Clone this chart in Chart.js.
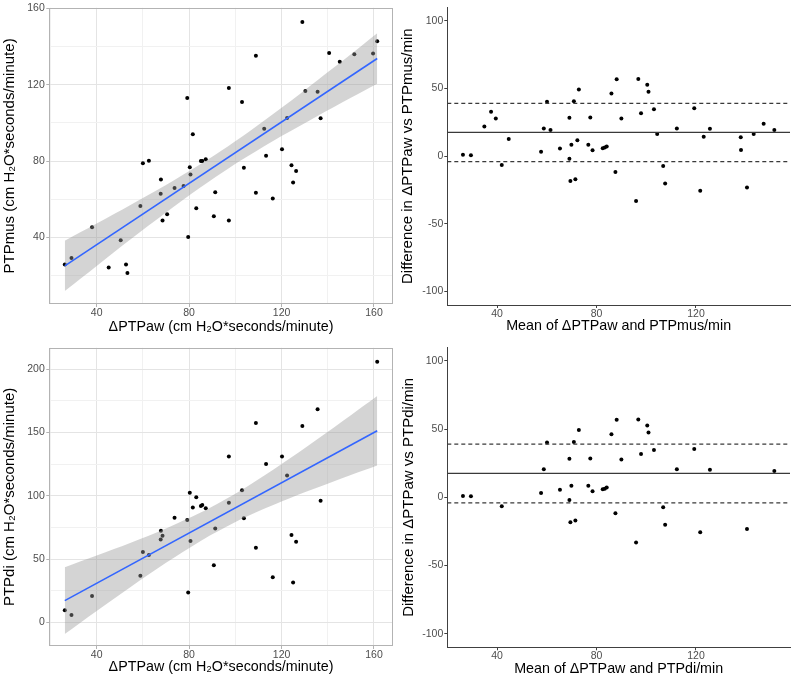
<!DOCTYPE html>
<html><head><meta charset="utf-8">
<script src="https://cdn.jsdelivr.net/npm/chart.js@4.4.0/dist/chart.umd.min.js"></script>
<style>
html,body{margin:0;padding:0;background:#fff;}
#wrap{position:relative;width:794px;height:680px;background:#fff;overflow:hidden;}
.p{position:absolute;width:397px;height:340px;}
canvas{display:block;}
</style></head><body>
<div id="wrap">
<div class="p" style="left:0;top:0"><canvas id="c1" width="397" height="340"></canvas></div>
<div class="p" style="left:397px;top:0"><canvas id="c2" width="397" height="340"></canvas></div>
<div class="p" style="left:0;top:340px"><canvas id="c3" width="397" height="340"></canvas></div>
<div class="p" style="left:397px;top:340px"><canvas id="c4" width="397" height="340"></canvas></div>
</div>
<script>
// ---------- DATA ----------
// Panel A: ΔPTPaw vs PTPmus
const pawA = [26.2,29.1,38.0,45.2,50.4,52.7,53.3,58.9,60.0,62.6,67.8,67.7,68.5,70.5,73.7,77.6,79.2,79.6,80.3,80.6,81.6,83.1,85.1,85.7,87.2,90.7,91.3,97.2,97.2,102.9,103.7,108.9,108.9,112.5,113.3,116.2,120.2,122.4,124.3,125.0,126.3,129.0,130.3,135.6,136.9,140.6,145.2,151.5,159.6,161.4];
const ptpMus = [25.7,29.1,45.3,24.1,38.4,25.7,21.2,56.4,78.8,80.2,70.3,62.8,48.8,52.1,65.9,66.9,113.1,40.2,76.7,72.9,94.0,55.3,80.0,80.0,81.0,51.0,63.6,118.3,48.8,111.0,76.5,135.2,63.4,96.9,82.8,60.3,86.2,102.6,77.8,68.8,74.8,152.9,116.7,116.4,102.4,136.7,132.1,136.0,136.4,142.9];
const fitMusX = [26.2,161.4];
const fitMusY = [25.0,133.8];
const bandMusX  = [26.2,40,55,70,85,93.9,105,120,135,150,161.4];
const bandMusHi = [38.2,47.2,57.2,67.4,78.4,85.4,94.6,107.9,121.9,136.0,147.0];
const bandMusLo = [11.8,25.0,39.2,53.0,66.2,73.6,82.2,93.1,103.3,113.2,120.6];

// Panel B: Bland-Altman ΔPTPaw vs PTPmus
const baMeanMus = [26.3,29.5,34.9,37.6,39.5,41.9,44.7,57.7,58.8,60.1,61.5,65.3,69.1,69.1,69.5,69.9,70.9,71.5,72.3,72.9,76.7,77.5,78.4,82.5,83.3,84.1,86.0,87.6,88.1,90.0,95.9,96.8,97.9,100.4,100.9,103.1,104.4,106.8,107.6,112.3,119.3,121.7,123.1,125.6,138.0,138.1,140.5,143.2,147.2,151.5];
const baDiffMus = [1.0,0.7,22.0,32.9,27.8,-6.6,12.7,3.2,20.5,40.2,19.3,5.6,28.3,-2.0,-18.3,8.5,40.5,-17.1,11.7,49.3,8.5,28.5,4.4,5.9,6.3,7.1,46.3,-11.7,56.8,27.8,-33.2,57.1,31.7,52.7,47.6,34.6,16.3,-7.3,-20.2,20.5,35.4,-25.6,14.4,20.2,13.9,4.6,-23.2,16.3,23.9,19.3];

// Panel C: ΔPTPaw vs PTPdi
const pawC = [26.2,29.1,38.0,58.9,60.0,62.6,67.8,67.7,68.5,73.7,79.2,79.6,80.3,80.6,81.6,83.1,85.1,85.7,87.2,90.7,91.3,97.2,97.2,102.9,103.7,108.9,108.9,113.3,116.2,120.2,122.4,124.3,125.0,126.3,129.0,135.6,136.9,161.4];
const ptpDi = [9.7,6.0,20.9,36.9,55.7,53.3,72.4,65.6,68.5,82.6,81.0,23.8,102.5,64.3,90.7,98.8,92.0,92.8,90.2,45.2,74.2,131.0,94.6,104.3,82.3,157.4,59.1,125.2,35.8,131.0,116.1,69.0,31.6,63.8,155.0,168.3,96.2,205.7];
const fitDiX = [26.2,161.4];
const fitDiY = [17.3,151.3];
const bandDiX  = [26.2,40,55,70,85,92.3,105,120,135,150,161.4];
const bandDiHi = [43.7,52.9,63.2,74.3,86.8,93.7,107.2,125.1,144.1,163.6,178.7];
const bandDiLo = [-9.1,9.1,28.4,47.1,64.4,71.9,83.6,95.5,106.1,116.4,123.9];

// Panel D: Bland-Altman ΔPTPaw vs PTPdi
const baMeanDi = [26.3,29.5,41.9,57.7,58.8,60.1,65.3,69.1,69.1,69.5,69.9,70.9,71.5,72.9,76.7,77.5,78.4,82.5,83.3,84.1,86.0,87.6,88.1,90.0,95.9,96.8,97.9,100.4,100.9,103.1,106.8,107.6,112.3,119.3,121.7,125.6,140.5,151.5];
const baDiffDi = [1.0,0.7,-6.6,3.2,20.5,40.2,5.6,28.3,-2.0,-18.3,8.5,40.5,-17.1,49.3,8.5,28.5,4.4,5.9,6.3,7.1,46.3,-11.7,56.8,27.8,-33.2,57.1,31.7,52.7,47.6,34.6,-7.3,-20.2,20.5,35.4,-25.6,20.2,-23.2,19.3];

// Bland-Altman bias and limits of agreement
const baLines = [17.5, 39.0, -4.1];   // bias, upper LoA, lower LoA

// Tick / grid values
const gridPawX  = [20,40,60,80,100,120,140,160];
const majorPawX = [40,80,120,160];
const gridMusY  = [20,40,60,80,100,120,140,160];
const majorMusY = [40,80,120,160];
const gridDiY   = [0,25,50,75,100,125,150,175,200];
const majorDiY  = [0,50,100,150,200];
const baTicksX  = [40,80,120];
const baTicksY  = [-100,-50,0,50,100];

// ---------- STYLE ----------
Chart.defaults.font.family = "'Liberation Sans', Arial, Helvetica, sans-serif";
Chart.defaults.animation = false;
const TICK_COLOR = '#4d4d4d';
const TICK_FONT = {size: 10.5};
const X_TITLE_FONT = {size: 14.3};
const Y_TITLE_FONT = {size: 15};
const GRID_MAJOR = '#e4e4e4';
const GRID_MINOR = '#f1f1f1';
const FRAME = '#b3b3b3';
const AXIS = '#404040';

const pairs = (xs, ys) => xs.map((x, i) => ({x: x, y: ys[i]}));
const setTicks = vals => s => { s.ticks = vals.map(v => ({value: v})); };
const isIn = (arr, ctx) => ctx && ctx.tick && arr.includes(ctx.tick.value);

const framePlugin = {
  id: 'frame',
  afterDraw(chart, args, opts) {
    if (!opts || !opts.color) return;
    const {ctx, chartArea: a} = chart;
    ctx.save();
    ctx.strokeStyle = opts.color;
    ctx.lineWidth = 1;
    const l = Math.round(a.left) + 0.5, t = Math.round(a.top) + 0.5;
    const r = Math.round(a.right) - 0.5, b = Math.round(a.bottom) - 0.5;
    ctx.strokeRect(l, t, r - l, b - t);
    ctx.restore();
  }
};

function bwScale(opts) {
  return {
    type: 'linear', position: opts.position, min: opts.min, max: opts.max,
    afterBuildTicks: setTicks(opts.grid),
    afterFit: opts.fit,
    ticks: {autoSkip: false, maxRotation: 0, padding: opts.tickPad, color: TICK_COLOR, font: TICK_FONT,
      callback: v => opts.major.includes(v) ? String(v) : ''},
    grid: {lineWidth: 1, drawTicks: true, tickLength: 3,
      color: ctx => isIn(opts.major, ctx) ? GRID_MAJOR : GRID_MINOR,
      tickColor: ctx => isIn(opts.major, ctx) ? FRAME : 'rgba(0,0,0,0)'},
    border: {display: false},
    title: {display: true, text: opts.title, color: '#000', font: opts.titleFont, padding: opts.titlePad}
  };
}

function classicScale(opts) {
  return {
    type: 'linear', position: opts.position, min: opts.min, max: opts.max,
    afterBuildTicks: setTicks(opts.ticksArr),
    afterFit: opts.fit,
    ticks: {autoSkip: false, maxRotation: 0, padding: opts.tickPad, color: TICK_COLOR, font: TICK_FONT,
      callback: v => String(v)},
    grid: {display: true, drawOnChartArea: false, drawTicks: true, tickLength: 3, tickColor: AXIS, lineWidth: 1},
    border: {display: true, color: AXIS, width: 1},
    title: {display: true, text: opts.title, color: '#000', font: opts.titleFont, padding: opts.titlePad}
  };
}

function scatterPanel(id, cfg) {
  const datasets = [
    {type: 'scatter', data: pairs(cfg.px, cfg.py), backgroundColor: '#000', borderWidth: 0, pointRadius: 2, order: 2},
    {type: 'line', data: pairs(cfg.bandX, cfg.bandHi), borderWidth: 0, pointRadius: 0, fill: '+1',
     backgroundColor: 'rgba(153,153,153,0.42)', tension: 0.35, order: 1},
    {type: 'line', data: pairs(cfg.bandX, cfg.bandLo), borderWidth: 0, pointRadius: 0, fill: false,
     backgroundColor: 'rgba(0,0,0,0)', tension: 0.35, order: 1},
    {type: 'line', data: pairs(cfg.fitX, cfg.fitY), borderColor: '#3366ff', borderWidth: 1.6, pointRadius: 0, fill: false, order: 0}
  ];
  new Chart(document.getElementById(id), {
    type: 'scatter',
    data: {datasets: datasets},
    plugins: [framePlugin],
    options: {
      responsive: false, animation: false, events: [],
      layout: {padding: cfg.pad},
      plugins: {legend: {display: false}, tooltip: {enabled: false}, frame: {color: FRAME}},
      scales: {
        x: bwScale({position: 'bottom', min: cfg.xMin, max: cfg.xMax, grid: gridPawX, major: majorPawX,
          fit: s => { s.height = cfg.xH; }, tickPad: 0, title: cfg.xTitle, titleFont: X_TITLE_FONT,
          titlePad: {top: 0, bottom: cfg.xTitlePad}}),
        y: bwScale({position: 'left', min: cfg.yMin, max: cfg.yMax, grid: cfg.yGrid, major: cfg.yMajor,
          fit: s => { s.width = cfg.yW; }, tickPad: 1.5, title: cfg.yTitle, titleFont: Y_TITLE_FONT,
          titlePad: {top: cfg.yTitlePad, bottom: 0}})
      }
    }
  });
}

function baPanel(id, cfg) {
  const xr = [cfg.xMin, cfg.xMax];
  const datasets = [
    {type: 'scatter', data: pairs(cfg.px, cfg.py), backgroundColor: '#000', borderWidth: 0, pointRadius: 2, order: 1},
    {type: 'line', data: pairs(xr, [baLines[0], baLines[0]]), borderColor: '#3a3a3a', borderWidth: 1.2, pointRadius: 0, fill: false, order: 0},
    {type: 'line', data: pairs(xr, [baLines[1], baLines[1]]), borderColor: '#3a3a3a', borderWidth: 1.2, borderDash: [4, 3], pointRadius: 0, fill: false, order: 0},
    {type: 'line', data: pairs(xr, [baLines[2], baLines[2]]), borderColor: '#3a3a3a', borderWidth: 1.2, borderDash: [4, 3], pointRadius: 0, fill: false, order: 0}
  ];
  new Chart(document.getElementById(id), {
    type: 'scatter',
    data: {datasets: datasets},
    options: {
      responsive: false, animation: false, events: [],
      layout: {padding: cfg.pad},
      plugins: {legend: {display: false}, tooltip: {enabled: false}},
      scales: {
        x: classicScale({position: 'bottom', min: cfg.xMin, max: cfg.xMax, ticksArr: baTicksX,
          fit: s => { s.height = cfg.xH; }, tickPad: 0, title: cfg.xTitle, titleFont: X_TITLE_FONT,
          titlePad: {top: 0, bottom: cfg.xTitlePad}}),
        y: classicScale({position: 'left', min: -110, max: 110, ticksArr: baTicksY,
          fit: s => { s.width = cfg.yW; }, tickPad: 1, title: cfg.yTitle, titleFont: Y_TITLE_FONT,
          titlePad: {top: cfg.yTitlePad, bottom: 0}})
      }
    }
  });
}

scatterPanel('c1', {
  px: pawA, py: ptpMus, bandX: bandMusX, bandHi: bandMusHi, bandLo: bandMusLo, fitX: fitMusX, fitY: fitMusY,
  xMin: 19.5, xMax: 168.1, yMin: 5.0, yMax: 160.4, yGrid: gridMusY, yMajor: majorMusY,
  pad: {left: 0, top: 4, right: 4.3, bottom: 0}, xH: 36, yW: 49.3,
  xTitle: 'ΔPTPaw (cm H₂O*seconds/minute)', yTitle: 'PTPmus (cm H₂O*seconds/minute)',
  xTitlePad: 4.7, yTitlePad: 1
});

baPanel('c2', {
  px: baMeanMus, py: baDiffMus, xMin: 20, xMax: 157.8,
  pad: {left: 0, top: 4.7, right: 3, bottom: 0}, xH: 35, yW: 50.3,
  xTitle: 'Mean of ΔPTPaw and PTPmus/min', yTitle: 'Difference in ΔPTPaw vs PTPmus/min',
  xTitlePad: 5, yTitlePad: 2.3
});

scatterPanel('c3', {
  px: pawC, py: ptpDi, bandX: bandDiX, bandHi: bandDiHi, bandLo: bandDiLo, fitX: fitDiX, fitY: fitDiY,
  xMin: 19.5, xMax: 168.1, yMin: -18.5, yMax: 216.8, yGrid: gridDiY, yMajor: majorDiY,
  pad: {left: 0, top: 6, right: 4.3, bottom: 0}, xH: 34, yW: 49.3,
  xTitle: 'ΔPTPaw (cm H₂O*seconds/minute)', yTitle: 'PTPdi (cm H₂O*seconds/minute)',
  xTitlePad: 3.9, yTitlePad: 1
});

baPanel('c4', {
  px: baMeanDi, py: baDiffDi, xMin: 20, xMax: 157.8,
  pad: {left: 0, top: 6.7, right: 3, bottom: 0}, xH: 32.7, yW: 50.3,
  xTitle: 'Mean of ΔPTPaw and PTPdi/min', yTitle: 'Difference in ΔPTPaw vs PTPdi/min',
  xTitlePad: 2.6, yTitlePad: 3.2
});
</script>
</body></html>
